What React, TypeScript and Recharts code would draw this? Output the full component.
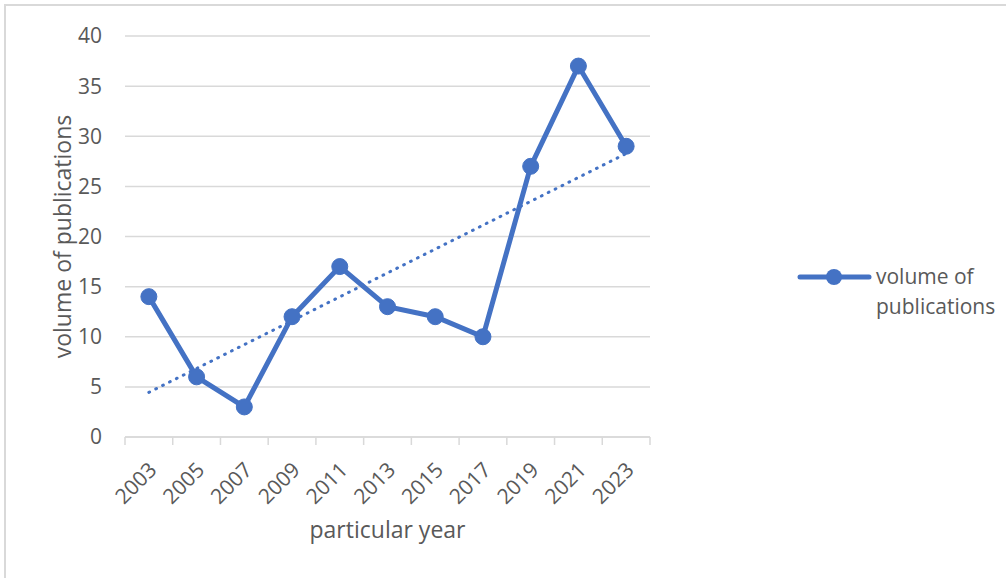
import React from 'react';
import {
  LineChart, Line, XAxis, YAxis, CartesianGrid, ReferenceLine, Label
} from 'recharts';

const years = ['2003', '2005', '2007', '2009', '2011', '2013', '2015', '2017', '2019', '2021', '2023'];
const publications = [14, 6, 3, 12, 17, 13, 12, 10, 27, 37, 29];
const yTicks = [0, 5, 10, 15, 20, 25, 30, 35, 40];

const BLUE = '#4472c4';
const GRID = '#d9d9d9';
const TEXT = '#595959';
const FONT = '"Open Sans", sans-serif';

const data = years.map((year, idx) => ({ idx, year, value: publications[idx] }));

// x ticks at every half step: whole steps carry the year label, half steps the tick mark
const xTicks: number[] = [];
for (let i = -0.5; i <= years.length - 0.5; i += 0.5) xTicks.push(i);

// linear trendline (least squares), as Excel draws it
const n = publications.length;
const meanX = (n - 1) / 2;
const meanY = publications.reduce((a, b) => a + b, 0) / n;
let sxy = 0;
let sxx = 0;
publications.forEach((v, i) => {
  sxy += (i - meanX) * (v - meanY);
  sxx += (i - meanX) * (i - meanX);
});
const slope = sxy / sxx;
const intercept = meanY - slope * meanX;
const trendSegment = [
  { x: 0, y: intercept },
  { x: n - 1, y: intercept + slope * (n - 1) },
];

function XTick(props: any) {
  const { x, y, payload } = props;
  const v = payload.value;
  if (!Number.isInteger(v)) {
    return <line x1={x} y1={y} x2={x} y2={y + 8} stroke={GRID} strokeWidth={1.5} />;
  }
  const tx = x + 4;
  const ty = y + 29;
  return (
    <text
      x={tx}
      y={ty}
      dy="0.35em"
      textAnchor="end"
      fill={TEXT}
      fontSize={21}
      fontFamily={FONT}
      transform={`rotate(-45, ${tx}, ${ty})`}
    >
      {years[v]}
    </text>
  );
}

function LegendBox() {
  return (
    <svg width={211} height={70} style={{ display: 'block' }}>
      <line x1={7} y1={17} x2={76} y2={17} stroke={BLUE} strokeWidth={5} strokeLinecap="round" />
      <circle cx={41} cy={17} r={8} fill={BLUE} />
      <text x={83} y={24} fill={TEXT} fontSize={21} fontFamily={FONT}>volume of</text>
      <text x={83} y={54} fill={TEXT} fontSize={21} fontFamily={FONT}>publications</text>
    </svg>
  );
}

export default function App() {
  return (
    <div style={{ position: 'absolute', left: 0, top: 0, width: 1006, height: 578, overflow: 'hidden', background: '#fff' }}>
      <div style={{ position: 'absolute', left: 4, top: 4, width: 1020, height: 600, border: `2px solid ${GRID}` }} />
      <div style={{ position: 'absolute', left: 0, top: 0 }}>
        <LineChart
          width={1006}
          height={578}
          data={data}
          margin={{ top: 36, right: 356, bottom: 0, left: 0 }}
          style={{ fontFamily: FONT }}
        >
          <CartesianGrid vertical={false} stroke={GRID} strokeWidth={1.5} />
          <XAxis
            dataKey="idx"
            type="number"
            domain={[-0.5, years.length - 0.5]}
            ticks={xTicks}
            interval={0}
            height={141}
            tickLine={false}
            tickSize={0}
            tickMargin={0}
            axisLine={{ stroke: GRID, strokeWidth: 1.5 }}
            tick={<XTick />}
          >
            <Label value="particular year" position="insideBottom" offset={40} fill={TEXT} fontSize={23} fontFamily={FONT} />
          </XAxis>
          <YAxis
            type="number"
            domain={[0, 40]}
            ticks={yTicks}
            width={125}
            axisLine={false}
            tickLine={false}
            tickSize={0}
            tickMargin={23}
            tick={{ fill: TEXT, fontSize: 21, fontFamily: FONT }}
          >
            <Label value="volume of publications" angle={-90} position="center" fill={TEXT} fontSize={23} fontFamily={FONT} />
          </YAxis>
          <Line
            type="linear"
            dataKey="value"
            name="volume of publications"
            stroke={BLUE}
            strokeWidth={5}
            dot={{ r: 8, fill: BLUE, stroke: BLUE, strokeWidth: 1 }}
            activeDot={false}
            isAnimationActive={false}
          />
          <ReferenceLine
            segment={trendSegment}
            stroke={BLUE}
            strokeWidth={3}
            strokeLinecap="round"
            strokeDasharray="0.8 6.9"
            ifOverflow="visible"
          />
        </LineChart>
      </div>
      <div style={{ position: 'absolute', left: 793, top: 260 }}>
        <LegendBox />
      </div>
    </div>
  );
}
